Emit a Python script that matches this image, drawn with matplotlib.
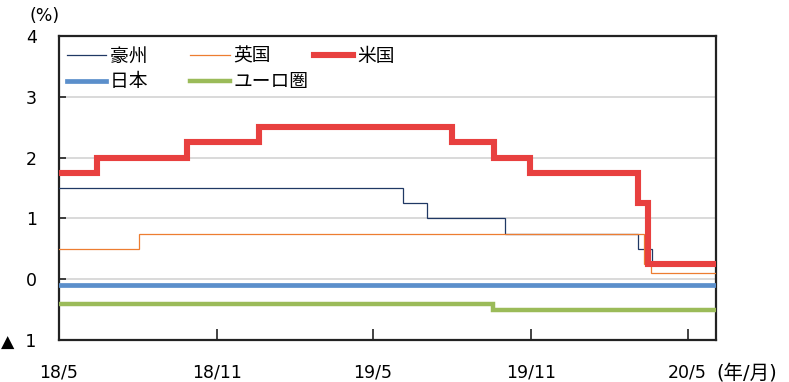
import matplotlib
matplotlib.use("Agg")
import matplotlib.pyplot as plt
import pandas as pd

plt.rcParams["font.family"] = ["DejaVu Sans", "Noto Sans CJK JP"]

# policy rate change dates and levels (%)
END_DATE = "2020-06-03"

au_dates = ["2018-05-01", "2019-06-05", "2019-07-03", "2019-10-02", "2020-03-04", "2020-03-20"]
au_rates = [1.5, 1.25, 1.0, 0.75, 0.5, 0.25]

uk_dates = ["2018-05-01", "2018-08-02", "2020-03-11", "2020-03-19"]
uk_rates = [0.5, 0.75, 0.25, 0.1]

us_dates = ["2018-05-01", "2018-06-14", "2018-09-27", "2018-12-20", "2019-08-01",
            "2019-09-19", "2019-10-31", "2020-03-04", "2020-03-16"]
us_rates = [1.75, 2.0, 2.25, 2.5, 2.25, 2.0, 1.75, 1.25, 0.25]

jp_dates = ["2018-05-01"]
jp_rates = [-0.1]

ez_dates = ["2018-05-01", "2019-09-18"]
ez_rates = [-0.4, -0.5]

x_ticks = ["2018-05-01", "2018-11-01", "2019-05-01", "2019-11-01", "2020-05-01"]
x_labels = ["18/5", "18/11", "19/5", "19/11", "20/5"]
y_ticks = [-1, 0, 1, 2, 3, 4]
y_labels = ["▲  1", "0", "1", "2", "3", "4"]

series = [
    ("豪州", au_dates, au_rates, "#203864", 0.9),
    ("英国", uk_dates, uk_rates, "#ED7D31", 0.9),
    ("米国", us_dates, us_rates, "#E8403F", 4.4),
    ("日本", jp_dates, jp_rates, "#5B8FCB", 3.4),
    ("ユーロ圏", ez_dates, ez_rates, "#9BBB59", 3.2),
]

fig = plt.figure(figsize=(7.89, 3.82), dpi=100)
ax = fig.add_axes([0.0748, 0.1099, 0.8327, 0.7959])

for y in [0, 1, 2, 3]:
    ax.axhline(y, color="#D9D9D9", lw=1.4, zorder=1)

handles = {}
for name, dates, rates, color, lw in series:
    d = pd.to_datetime(dates + [END_DATE])
    v = rates + [rates[-1]]
    ln, = ax.step(d, v, where="post", color=color, lw=lw, zorder=3,
                  solid_joinstyle="miter")
    handles[name] = ln

ax.set_xlim(pd.Timestamp("2018-05-01"), pd.Timestamp(END_DATE))
ax.set_ylim(-1, 4)
ax.set_xticks(pd.to_datetime(x_ticks))
ax.set_xticklabels(x_labels)
ax.set_yticks(y_ticks)
ax.set_yticklabels(y_labels)
ax.tick_params(axis="x", direction="in", length=8, width=1.2, pad=17,
               labelsize=12.5, color="#222222")
ax.tick_params(axis="y", direction="in", length=5, width=1.2, pad=16,
               labelsize=12.5, color="#222222")
for sp in ax.spines.values():
    sp.set_linewidth(1.6)
    sp.set_color("#222222")

# legend: row-wise order with 3 columns
order = ["豪州", "日本", "英国", "ユーロ圏", "米国"]
labels = {"豪州": "豪州\u3000\u3000", "日本": "日本\u3000\u3000",
          "英国": "英国", "ユーロ圏": "ユーロ圏", "米国": "米国"}
leg = ax.legend([handles[k] for k in order], [labels[k] for k in order],
                ncol=3, loc="upper left", frameon=False, fontsize=13.5,
                handlelength=2.1, handletextpad=0.2, columnspacing=0.3,
                labelspacing=0.35, borderaxespad=0.0, bbox_to_anchor=(0.0, 0.99))

fig.text(0.038, 0.958, "(%)", fontsize=12.5, ha="left", va="center")
ax.text(1.0, -0.11, "(年/月)", transform=ax.transAxes, fontsize=14,
        ha="left", va="center")

fig.savefig("out.png", dpi=100)
